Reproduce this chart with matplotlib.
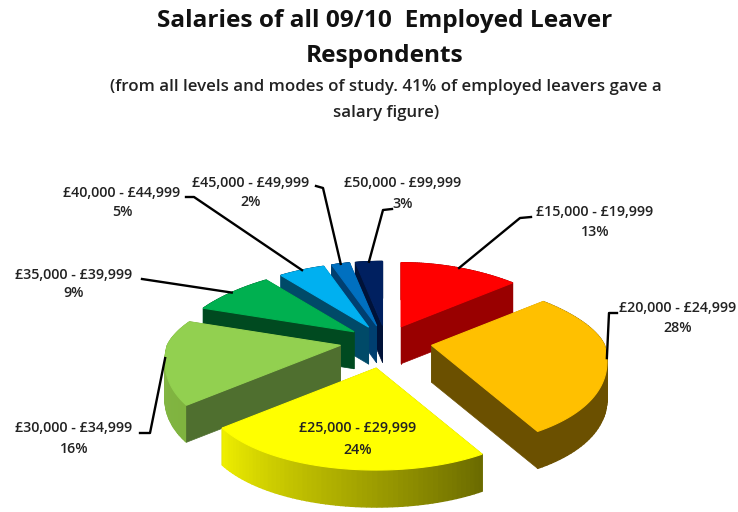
import matplotlib
matplotlib.use('Agg')
import matplotlib.pyplot as plt
import numpy as np

plt.rcParams['font.family'] = ['Open Sans', 'DejaVu Sans']

# data
bands = ['£15,000 - £19,999', '£20,000 - £24,999', '£25,000 - £29,999', '£30,000 - £34,999',
         '£35,000 - £39,999', '£40,000 - £44,999', '£45,000 - £49,999', '£50,000 - £99,999']
percents = [13, 28, 24, 16, 9, 5, 2, 3]
title = ['Salaries of all 09/10  Employed Leaver', 'Respondents']
subtitle = ['(from all levels and modes of study. 41% of employed leavers gave a', 'salary figure)']

# colours: top, cut face, outer wall at start angle, outer wall at end angle
top_cols = ['#ff0000', '#ffc000', '#ffff00', '#92d050', '#00b050', '#00b0f0', '#0070c0', '#002060']
cut_cols = ['#990000', '#6b5000', '#7a7a00', '#4f6f2f', '#004a20', '#004a68', '#003f70', '#001238']
wall_a = ['#990000', '#6b5000', '#6b6b00', '#7fb33f', '#006030', '#005a80', '#004a80', '#001840']
wall_b = ['#990000', '#6b5000', '#eeee00', '#86b848', '#006030', '#005a80', '#004a80', '#001840']

# layout of the fake 3d pie, in pixels
cx, cy = 386, 342
rx, ry_front, ry_back = 173, 102, 64
depth = 37
explode = 0.26

# label centres: x, y of first line, y of second line, then leader elbows
label_x = [595, 678, 358, 74, 74, 122, 251, 403]
label_y = [212, 308, 428, 428, 275, 193, 183, 183]
pct_y = [232, 328, 450, 449, 293, 212, 202, 204]
elbows = [[(520, 218), (531, 217)], [(609, 313), (617, 313)], [], [(150, 433), (140, 433)],
          [(142, 279)], [(194, 197), (186, 197)], [(323, 188), (316, 186)], [(383, 210), (392, 209)]]


def project(r, ang):
    # angle clockwise from the top, front of the pie is stretched by perspective
    ang = np.asarray(ang, dtype=float)
    p = 1 - 0.17 * np.cos(ang)
    ry = np.where(np.cos(ang) < 0, ry_front, ry_back)
    return r * rx * p * np.sin(ang), -r * ry * np.cos(ang)


def mix(c1, c2, t):
    a = np.array(matplotlib.colors.to_rgb(c1))
    b = np.array(matplotlib.colors.to_rgb(c2))
    return a + (b - a) * t


fig = plt.figure(figsize=(7.38, 5.12), dpi=100)
ax = fig.add_axes([0, 0, 1, 1])
ax.set_xlim(0, 738)
ax.set_ylim(512, 0)
ax.axis('off')

edges = np.radians(np.cumsum([0] + percents) * 3.6)
mids = (edges[:-1] + edges[1:]) / 2
order = np.argsort(-np.cos(mids))

for i in order:
    ox, oy = project(explode, mids[i])
    ax0, ay0 = cx + ox, cy + oy
    th = np.linspace(edges[i], edges[i + 1], 60)
    dx, dy = project(1, th)
    xs, ys = ax0 + dx, ay0 + dy

    # cut faces, the hidden ones go first
    faces = [(edges[i] - np.pi / 2, xs[0], ys[0]), (edges[i + 1] + np.pi / 2, xs[-1], ys[-1])]
    visible = []
    for normal, x1, y1 in faces:
        quad = [(ax0, ay0), (x1, y1), (x1, y1 + depth), (ax0, ay0 + depth)]
        if -np.cos(normal) > 0:
            visible.append(quad)
        else:
            ax.fill(*zip(*quad), color=cut_cols[i], lw=0.5, zorder=2)

    # outer wall
    for k in range(len(th) - 1):
        quad = [(xs[k], ys[k]), (xs[k + 1], ys[k + 1]), (xs[k + 1], ys[k + 1] + depth), (xs[k], ys[k] + depth)]
        col = mix(wall_a[i], wall_b[i], k / (len(th) - 2))
        ax.fill(*zip(*quad), color=col, lw=1, zorder=2)

    for quad in visible:
        ax.fill(*zip(*quad), color=cut_cols[i], lw=0.5, zorder=2)

    ax.fill(np.r_[ax0, xs], np.r_[ay0, ys], color=top_cols[i], lw=0.8, zorder=2)

    # leader and labels
    mx, my = project(1, mids[i])
    if elbows[i]:
        pts = [(ax0 + mx, ay0 + my)] + elbows[i]
        ax.plot(*zip(*pts), color='black', lw=1.7, solid_joinstyle='round', zorder=3)
    ax.text(label_x[i], label_y[i], bands[i], ha='center', va='center', fontsize=10.3,
            fontweight='semibold', color='#222222', zorder=4)
    ax.text(label_x[i], pct_y[i], '%d%%' % percents[i], ha='center', va='center', fontsize=10.3,
            fontweight='semibold', color='#222222', zorder=4)

for line, y in zip(title, [21, 56]):
    ax.text(385, y, line, ha='center', va='center', fontsize=17.6, fontweight='bold', color='#111111')
for line, y in zip(subtitle, [87, 113]):
    ax.text(386, y, line, ha='center', va='center', fontsize=12.2, fontweight='semibold', color='#222222')

fig.savefig('out.png', dpi=100)
